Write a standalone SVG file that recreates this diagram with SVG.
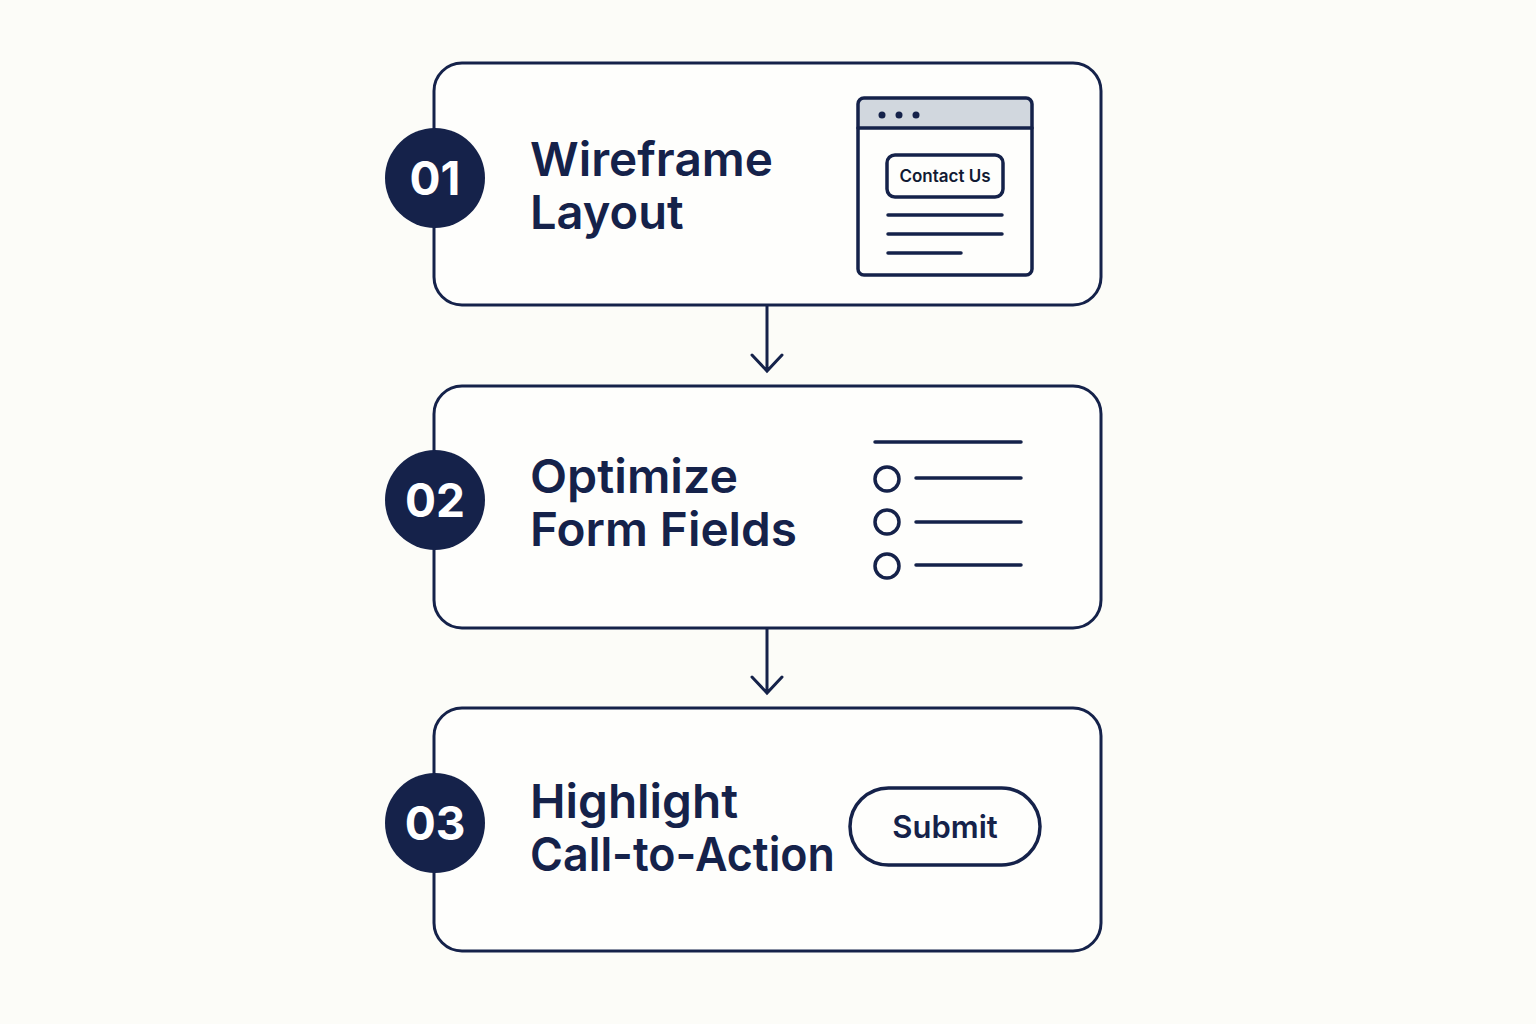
<svg xmlns="http://www.w3.org/2000/svg" width="1536" height="1024" viewBox="0 0 1536 1024">
<style>
.box{fill:#fefefc;stroke:#15224a;stroke-width:3}
.badge{fill:#15224a}
.num{font-family:Inter,"Liberation Sans",sans-serif;font-weight:700;font-size:46px;fill:#ffffff;text-anchor:middle}
.title{font-family:Inter,"Liberation Sans",sans-serif;font-weight:600;font-size:47px;fill:#15224a}
.ln{stroke:#15224a;stroke-width:3;stroke-linecap:round;fill:none}
.il{stroke:#15224a;stroke-width:3.5;stroke-linecap:round;fill:none}
.icon{fill:none;stroke:#15224a;stroke-width:3.5}
</style>
<rect width="1536" height="1024" fill="#fcfcf8"/>
<g id="connectors">
<path class="ln" d="M767 306 V370 M752 355 L767 371 L782 355"/>
<path class="ln" d="M767 628 V692 M752 677 L767 693 L782 677"/>
</g>
<g id="step1">
<rect class="box" x="434" y="63" width="667" height="242" rx="28"/>
<circle class="badge" cx="435" cy="178" r="50"/>
<text class="num" x="435" y="195">01</text>
<text class="title" x="530" y="176" textLength="243" lengthAdjust="spacingAndGlyphs">Wireframe</text>
<text class="title" x="530" y="229">Layout</text>
<rect x="858" y="98" width="174" height="177" rx="6" fill="#fefefc"/>
<path d="M864 98 H1026 A6 6 0 0 1 1032 104 V128 H858 V104 A6 6 0 0 1 864 98 Z" fill="#d1d7de"/>
<rect class="icon" x="858" y="98" width="174" height="177" rx="6"/>
<line class="il" x1="858" y1="128" x2="1032" y2="128"/>
<circle cx="882" cy="115" r="3.5" fill="#15224a"/>
<circle cx="899" cy="115" r="3.5" fill="#15224a"/>
<circle cx="916" cy="115" r="3.5" fill="#15224a"/>
<rect class="icon" x="887" y="155" width="116" height="42" rx="8"/>
<text x="945" y="182" font-family="Inter,'Liberation Sans',sans-serif" font-weight="600" font-size="17" fill="#111a33" text-anchor="middle">Contact Us</text>
<line class="il" x1="888" y1="215" x2="1002" y2="215"/>
<line class="il" x1="888" y1="234" x2="1002" y2="234"/>
<line class="il" x1="888" y1="253" x2="961" y2="253"/>
</g>
<g id="step2">
<rect class="box" x="434" y="386" width="667" height="242" rx="28"/>
<circle class="badge" cx="435" cy="500" r="50"/>
<text class="num" x="435" y="517">02</text>
<text class="title" x="530" y="493" textLength="208" lengthAdjust="spacingAndGlyphs">Optimize</text>
<text class="title" x="530" y="546" textLength="267" lengthAdjust="spacingAndGlyphs">Form Fields</text>
<line class="il" x1="875" y1="442" x2="1021" y2="442"/>
<circle class="icon" cx="887" cy="479" r="12"/>
<circle class="icon" cx="887" cy="522" r="12"/>
<circle class="icon" cx="887" cy="566" r="12"/>
<line class="il" x1="916" y1="478" x2="1021" y2="478"/>
<line class="il" x1="916" y1="522" x2="1021" y2="522"/>
<line class="il" x1="916" y1="565" x2="1021" y2="565"/>
</g>
<g id="step3">
<rect class="box" x="434" y="708" width="667" height="243" rx="28"/>
<circle class="badge" cx="435" cy="823" r="50"/>
<text class="num" x="435" y="840">03</text>
<text class="title" x="530" y="818" textLength="208" lengthAdjust="spacingAndGlyphs">Highlight</text>
<text class="title" x="530" y="871" textLength="305" lengthAdjust="spacingAndGlyphs">Call-to-Action</text>
<rect class="icon" x="850" y="788" width="190" height="77" rx="38.5"/>
<text x="945" y="838" font-family="Inter,'Liberation Sans',sans-serif" font-weight="600" font-size="31" fill="#15224a" text-anchor="middle">Submit</text>
</g>
</svg>
